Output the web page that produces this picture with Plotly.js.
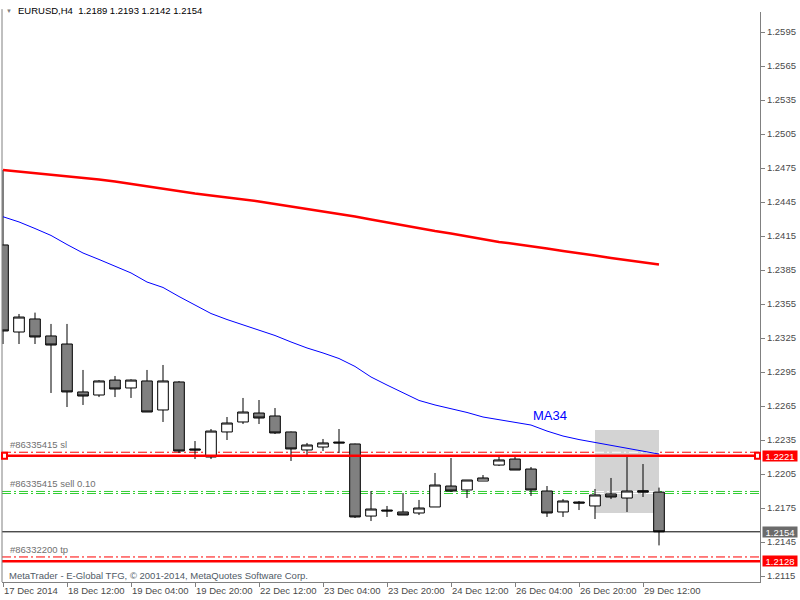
<!DOCTYPE html>
<html><head><meta charset="utf-8">
<script src="https://cdn.plot.ly/plotly-3.0.1.min.js"></script>
<style>html,body{margin:0;padding:0;background:#fff;}#chart{width:800px;height:600px;}</style>
</head><body><div id="chart"></div>
<script>
// ---- data ----
const barTimes = [
 '2014-12-17 20:00','2014-12-18 00:00','2014-12-18 04:00','2014-12-18 08:00','2014-12-18 12:00','2014-12-18 16:00','2014-12-18 20:00',
 '2014-12-19 00:00','2014-12-19 04:00','2014-12-19 08:00','2014-12-19 12:00','2014-12-19 16:00','2014-12-19 20:00',
 '2014-12-22 00:00','2014-12-22 04:00','2014-12-22 08:00','2014-12-22 12:00','2014-12-22 16:00','2014-12-22 20:00',
 '2014-12-23 00:00','2014-12-23 04:00','2014-12-23 08:00','2014-12-23 12:00','2014-12-23 16:00','2014-12-23 20:00',
 '2014-12-24 00:00','2014-12-24 04:00','2014-12-24 08:00','2014-12-24 12:00','2014-12-24 16:00','2014-12-24 20:00',
 '2014-12-26 00:00','2014-12-26 04:00','2014-12-26 08:00','2014-12-26 12:00','2014-12-26 16:00','2014-12-26 20:00',
 '2014-12-29 00:00','2014-12-29 04:00','2014-12-29 08:00','2014-12-29 12:00','2014-12-29 16:00'];
const opens  = [1.24071,1.23303,1.23418,1.23268,1.23197,1.22774,1.22747,1.22879,1.22809,1.22871,1.22615,1.22862,1.22271,
 1.22200,1.22421,1.22509,1.22588,1.22562,1.22421,1.22262,1.22288,1.22332,1.22315,1.21679,1.21732,1.21715,1.21706,1.21759,
 1.21944,1.21909,1.21988,1.22129,1.22182,1.22094,1.21900,1.21715,1.21803,1.21768,1.21874,1.21838,1.21903,1.2189];
const highs  = [1.24732,1.23462,1.23474,1.23374,1.23374,1.22968,1.22879,1.22915,1.22885,1.22968,1.23012,1.22870,1.22341,
 1.22447,1.22553,1.22721,1.22703,1.22632,1.22425,1.22324,1.22359,1.22447,1.22318,1.21900,1.21768,1.21882,1.21821,1.22059,
 1.22191,1.21997,1.22041,1.22200,1.22200,1.22112,1.21944,1.21829,1.21812,1.21918,1.22015,1.22200,1.22138,1.2193];
const lows   = [1.23197,1.23197,1.23197,1.22765,1.22641,1.22659,1.22729,1.22729,1.22721,1.22597,1.22509,1.22235,1.22182,
 1.22182,1.22350,1.22491,1.22491,1.22403,1.22165,1.22200,1.22253,1.22235,1.21662,1.21635,1.21671,1.21688,1.21688,1.21759,
 1.21891,1.21838,1.21988,1.22121,1.22085,1.21856,1.21671,1.21671,1.21732,1.21653,1.21829,1.21715,1.21847,1.2142];
const closes = [1.23312,1.23435,1.23259,1.23188,1.22774,1.22738,1.22871,1.22800,1.22879,1.22597,1.22871,1.22253,1.22262,
 1.22429,1.22500,1.22597,1.22544,1.22412,1.22271,1.22306,1.22324,1.22324,1.21671,1.21741,1.21724,1.21688,1.21750,1.21953,
 1.21900,1.21997,1.22015,1.22174,1.22085,1.21909,1.21706,1.21812,1.21794,1.21865,1.21847,1.21900,1.21890,1.2154];
const maSlow = [1.24732,1.24719,1.24706,1.24688,1.24675,1.24662,1.24649,1.24631,1.24609,1.24591,1.24569,1.24547,1.24525,
 1.24507,1.24490,1.24472,1.24455,1.24432,1.24410,1.24388,1.24366,1.24349,1.24322,1.24296,1.24269,1.24243,1.24221,1.24194,
 1.24172,1.24146,1.24119,1.24097,1.24080,1.24057,1.24040,1.24018,1.24000,1.23978,1.23956,1.23938,1.23921,1.23899];
const ma34 = [1.24320,1.24274,1.24216,1.24155,1.24075,1.24000,1.23943,1.23885,1.23824,1.23744,1.23696,1.23616,1.23541,
 1.23466,1.23413,1.23365,1.23321,1.23272,1.23215,1.23162,1.23118,1.23069,1.22999,1.22906,1.22835,1.22765,1.22699,1.22659,
 1.22628,1.22593,1.22553,1.22531,1.22509,1.22482,1.22429,1.22385,1.22354,1.22328,1.22306,1.22279,1.22253,1.22226];
const tickTimes  = ['2014-12-17 20:00','2014-12-18 12:00','2014-12-19 04:00','2014-12-19 20:00','2014-12-22 12:00','2014-12-23 04:00',
 '2014-12-23 20:00','2014-12-24 12:00','2014-12-26 04:00','2014-12-26 20:00','2014-12-29 12:00'];
const tickLabels = ['17 Dec 2014','18 Dec 12:00','19 Dec 04:00','19 Dec 20:00','22 Dec 12:00','23 Dec 04:00',
 '23 Dec 20:00','24 Dec 12:00','26 Dec 04:00','26 Dec 20:00','29 Dec 12:00'];
const priceTicks = [1.2115,1.2145,1.2175,1.2205,1.2235,1.2265,1.2295,1.2325,1.2355,1.2385,1.2415,1.2445,1.2475,1.2505,1.2535,1.2565,1.2595];
const hLinePrices = [1.2221, 1.2128];          // solid red horizontal lines
const bidPrice = 1.2154;                        // current price line
const orderSlPrice = 1.22242;                   // #86335415 sl
const orderOpenPrices = [1.21896, 1.21878];     // #86335415 sell 0.10
const orderTpPrice = 1.21318;                   // #86332200 tp
const zoneTimes = ['2014-12-29 00:00','2014-12-29 16:00'];
const zonePrices = [1.21706, 1.22438];
const maLabelTime = '2014-12-26 08:00';
const maLabelPrice = 1.22562;
const symbolText = 'EURUSD,H4';
const ohlcText = ['1.2189','1.2193','1.2142','1.2154'];
const orderLabels = ['#86335415 sl','#86335415 sell 0.10','#86332200 tp'];

// ---- styles ----
const FONT = 'Liberation Sans, Arial, sans-serif';
const GRAY = '#808080';
const TXT = '#4a4a4a';
const DD = '9px,3px,2px,3px';

const traces = [
  {type:'candlestick', x:barTimes, open:opens, high:highs, low:lows, close:closes,
   increasing:{line:{color:'#000',width:1}, fillcolor:'#ffffff'},
   decreasing:{line:{color:'#000',width:1}, fillcolor:'#808080'},
   whiskerwidth:0, hoverinfo:'skip'},
  {type:'scatter', mode:'lines', x:barTimes, y:maSlow, line:{color:'#ff0000', width:2.5}, hoverinfo:'skip'},
  {type:'scatter', mode:'lines', x:barTimes, y:ma34, line:{color:'#0000ff', width:1}, hoverinfo:'skip'}
];

function hline(y, color, width, dash, layer){
  return {type:'line', xref:'paper', x0:0, x1:1, yref:'y', y0:y, y1:y, layer:layer,
          line:{color:color, width:width, dash:dash}};
}
function zline(y){
  return {type:'line', xref:'x', x0:zoneTimes[0], x1:zoneTimes[1], yref:'y', y0:y, y1:y, layer:'below',
          line:{color:'#ffffff', width:1, dash:DD}};
}
const shapes = [
  hline(orderSlPrice, '#ff0000', 1, DD, 'below'),
  hline(orderOpenPrices[0], '#32cd32', 1, DD, 'below'),
  hline(orderOpenPrices[1], '#32cd32', 1, DD, 'below'),
  hline(orderTpPrice, '#ff0000', 1, DD, 'below'),
  {type:'rect', xref:'x', x0:zoneTimes[0], x1:zoneTimes[1], yref:'y', y0:zonePrices[0], y1:zonePrices[1],
   fillcolor:'#d3d3d3', line:{width:0}, layer:'below'},
  zline(orderSlPrice), zline(orderOpenPrices[0]), zline(orderOpenPrices[1]),
  hline(hLinePrices[0], '#ff0000', 2.5, 'solid', 'above'),
  hline(hLinePrices[1], '#ff0000', 2.5, 'solid', 'above'),
  hline(bidPrice, '#000000', 1, 'solid', 'above'),
  {type:'line', xref:'paper', x0:0, x1:0, yref:'paper', y0:0, y1:1.005, line:{color:GRAY, width:1}},
  {type:'rect', xref:'paper', xsizemode:'pixel', xanchor:0, x0:0, x1:5, yref:'y', ysizemode:'pixel', yanchor:hLinePrices[0], y0:-3, y1:3,
   fillcolor:'#ffffff', line:{color:'#ff0000', width:2}, layer:'above'},
  {type:'rect', xref:'paper', xsizemode:'pixel', xanchor:1, x0:-5, x1:0, yref:'y', ysizemode:'pixel', yanchor:hLinePrices[0], y0:-3, y1:3,
   fillcolor:'#ffffff', line:{color:'#ff0000', width:2}, layer:'above'}
];

function priceBox(p, bg){
  return {xref:'paper', x:1, xanchor:'left', xshift:2, yref:'y', y:p, yanchor:'middle',
          text:p.toFixed(4), showarrow:false, bgcolor:bg, width:34, height:10, borderpad:0,
          font:{family:FONT, size:9.5, color:'#ffffff'}};
}
function orderLabel(txt, p){
  return {xref:'paper', x:0, xanchor:'left', xshift:6, yref:'y', y:p, yanchor:'bottom', yshift:0,
          text:txt, showarrow:false, font:{family:FONT, size:9.5, color:'#707070'}};
}
const annotations = [
  {xref:'paper', x:(8.5-2)/758, xanchor:'center', yref:'paper', y:(582-11)/570, yanchor:'middle',
   text:'\u25BC', showarrow:false, font:{family:FONT, size:6, color:'#808080'}},
  {xref:'paper', x:(7-2)/758, xanchor:'left', yref:'paper', y:(582-575)/570, yanchor:'middle',
   text:'MetaTrader - E-Global TFG, \u00A9 2001-2014, MetaQuotes Software Corp.', showarrow:false,
   font:{family:FONT, size:9.5, color:'#505a66'}},
  orderLabel(orderLabels[0], orderSlPrice),
  orderLabel(orderLabels[1], orderOpenPrices[0]),
  orderLabel(orderLabels[2], orderTpPrice),
  {xref:'x', x:maLabelTime, xanchor:'left', yref:'y', y:maLabelPrice, yanchor:'middle', text:'MA34',
   showarrow:false, font:{family:FONT, size:13, color:'#0000ff'}},
  priceBox(hLinePrices[0], '#ff0000'),
  priceBox(bidPrice, '#6b6b6b'),
  priceBox(hLinePrices[1], '#ff0000')
];

const layout = {
  width:800, height:600, margin:{l:2, r:40, t:12, b:18, pad:0},
  paper_bgcolor:'#ffffff', plot_bgcolor:'#ffffff', showlegend:false,
  boxgap:0.05, boxgroupgap:0.3,
  title:{text: symbolText + '\u00A0\u00A0' + ohlcText.join(' '), xref:'container', x:18/800, xanchor:'left',
         yref:'container', y:1-11/600, yanchor:'middle', font:{family:FONT, size:9.5, color:'#000000'}},
  xaxis:{type:'category', range:[-1/16, 758/16 - 1/16], showgrid:false, zeroline:false, showline:true, linecolor:GRAY, linewidth:1,
         ticks:'outside', ticklen:4, tickcolor:GRAY, tickvals:tickTimes, ticktext:tickLabels, tickangle:0,
         ticklabelposition:'outside right', tickfont:{family:FONT, size:9.5, color:TXT},
         rangeslider:{visible:false}, fixedrange:true},
  yaxis:{side:'right', range:[1.210971, 1.261265], showgrid:false, zeroline:false, showline:true, linecolor:GRAY, linewidth:1,
         ticks:'outside', ticklen:4, tickcolor:GRAY, tickvals:priceTicks, tickformat:'.4f',
         tickfont:{family:FONT, size:9.5, color:TXT}, fixedrange:true},
  shapes:shapes, annotations:annotations
};
Plotly.newPlot('chart', traces, layout, {staticPlot:true, displayModeBar:false});
</script></body></html>
